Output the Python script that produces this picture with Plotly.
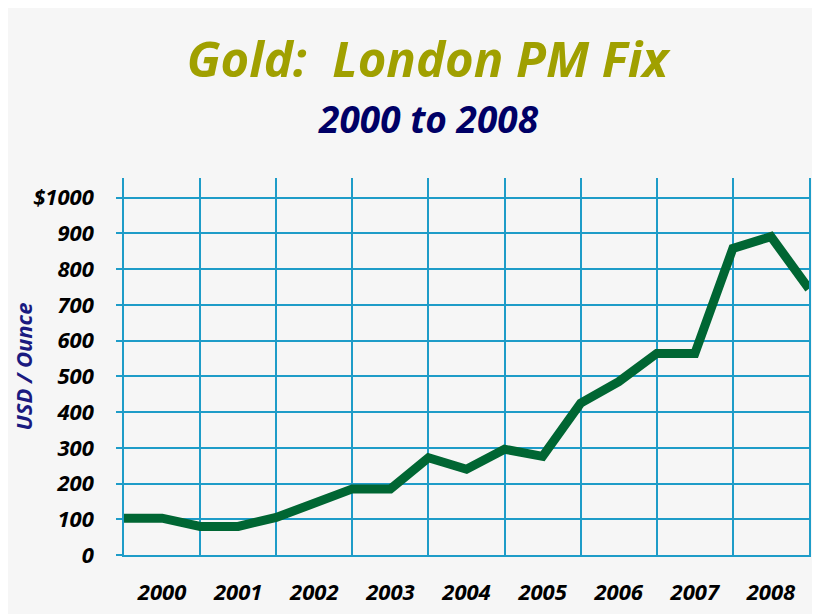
import plotly.graph_objects as go

# half-year points, London PM fix (USD / ounce)
dates = [2000.0, 2000.5, 2001.0, 2001.5, 2002.0, 2002.5, 2003.0, 2003.5, 2004.0, 2004.5,
         2005.0, 2005.5, 2006.0, 2006.5, 2007.0, 2007.5, 2008.0, 2008.5, 2009.0]
prices = [103, 103, 80, 80, 105, 148, 185, 185, 272, 240,
          296, 276, 425, 485, 564, 564, 858, 891, 745]

year_labels = ["2000", "2001", "2002", "2003", "2004", "2005", "2006", "2007", "2008"]
year_pos = [2000.5, 2001.5, 2002.5, 2003.5, 2004.5, 2005.5, 2006.5, 2007.5, 2008.5]
year_edges = list(range(2000, 2010))

y_vals = [0, 100, 200, 300, 400, 500, 600, 700, 800, 900, 1000]
y_text = ["0", "100", "200", "300", "400", "500", "600", "700", "800", "900", "$1000"]

GRID = "#1e9cc8"
FONT = "Open Sans"

# page body has an 8px margin, so the figure is a bit smaller than the window
W, H = 812, 606

fig = go.Figure()

fig.add_trace(go.Scatter(x=dates, y=prices, mode="lines",
                         line=dict(color="#006633", width=9),
                         hoverinfo="skip", showlegend=False))

fig.update_layout(
    width=W, height=H,
    margin=dict(l=116, r=11, t=170, b=59),
    paper_bgcolor="#f6f6f6", plot_bgcolor="#f6f6f6",
    font=dict(family=FONT, color="black"),
    title=dict(text="Gold:  London PM Fix", x=419.5 / W, xanchor="center",
               y=1 - 52 / H, yanchor="middle", yref="container",
               font=dict(family=FONT, size=49, color="#a0a000", weight="bold", style="italic")),
)

fig.add_annotation(text="2000 to 2008", xref="paper", yref="paper",
                   x=(428 - 124) / 685, y=1 + (178 - 119) / 377, showarrow=False,
                   xanchor="center", yanchor="middle",
                   font=dict(family=FONT, size=37, color="#000066", weight="bold", style="italic"))

fig.update_xaxes(range=[2000, 2009], tickvals=year_pos, ticktext=year_labels,
                 showgrid=False, ticks="", ticklabelstandoff=17, automargin=False,
                 tickfont=dict(family=FONT, size=22, weight="bold", style="italic", color="black"),
                 showline=True, linecolor=GRID, linewidth=1.5,
                 minor=dict(tickvals=year_edges, showgrid=True, gridcolor=GRID, gridwidth=1.5, ticks=""),
                 zeroline=False)

fig.update_yaxes(range=[0, 1055], tickvals=y_vals, ticktext=y_text,
                 showgrid=True, gridcolor=GRID, gridwidth=1.5,
                 ticks="outside", ticklen=6, tickcolor=GRID, tickwidth=1.5,
                 ticklabelstandoff=18, automargin=False,
                 tickfont=dict(family=FONT, size=22, weight="bold", style="italic", color="black"),
                 showline=True, linecolor=GRID, linewidth=1.5, mirror=True,
                 zeroline=False,
                 title=dict(text="USD / Ounce", standoff=2,
                            font=dict(family=FONT, size=22, color="#1a1a80", weight="bold", style="italic")))

fig.write_html("out.html")
